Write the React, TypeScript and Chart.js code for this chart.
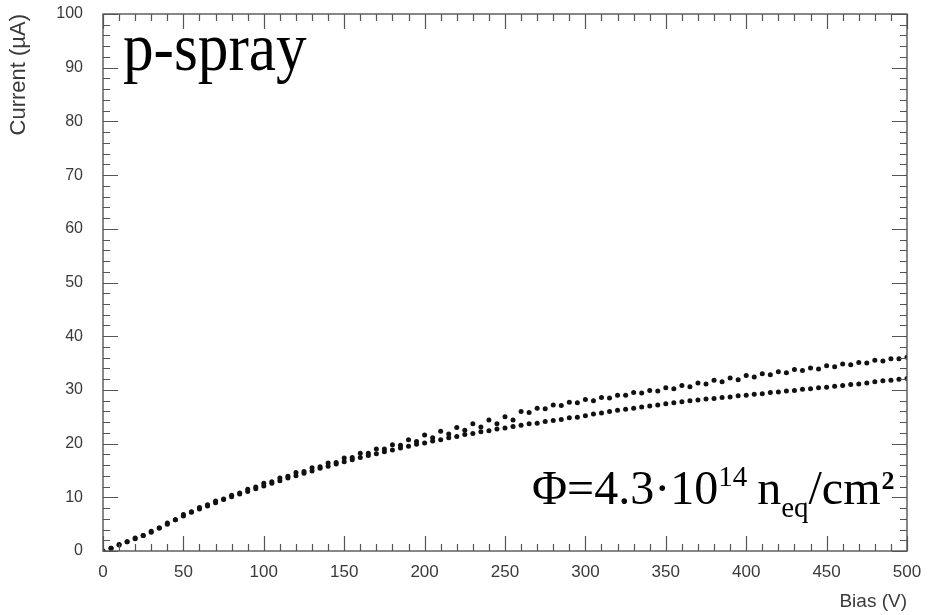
import React, { useEffect, useRef } from 'react';
import { Chart, registerables } from 'chart.js';

Chart.register(...registerables);

// Bias voltages (V)
const voltsEven = [0, 10, 20, 30, 40, 50, 60, 70, 80, 90, 100, 110, 120, 130, 140, 150, 160, 170, 180, 190, 200, 210, 220, 230, 240, 250, 260, 270, 280, 290, 300, 310, 320, 330, 340, 350, 360, 370, 380, 390, 400, 410, 420, 430, 440, 450, 460, 470, 480, 490, 500];
const voltsOdd = [5, 15, 25, 35, 45, 55, 65, 75, 85, 95, 105, 115, 125, 135, 145, 155, 165, 175, 185, 195, 205, 215, 225, 235, 245, 255, 265, 275, 285, 295, 305, 315, 325, 335, 345, 355, 365, 375, 385, 395, 405, 415, 425, 435, 445, 455, 465, 475, 485, 495];

// Currents (µA)
const sensorA = [0, 1.2, 2.4, 3.7, 5.2, 6.8, 8.1, 9.3, 10.4, 11.5, 12.6, 13.6, 14.6, 15.5, 16.4, 17.3, 18.2, 19.0, 19.8, 20.7, 21.6, 22.3, 23.0, 23.7, 24.4, 25.0, 26.0, 26.6, 27.2, 27.7, 28.2, 28.6, 29.0, 29.5, 29.9, 30.4, 30.8, 31.3, 31.8, 32.2, 32.7, 33.0, 33.4, 33.8, 34.1, 34.5, 34.8, 35.1, 35.5, 35.8, 36.1];
const sensorB = [0.5, 1.7, 2.9, 4.3, 5.8, 7.3, 8.6, 9.7, 10.8, 11.9, 12.9, 13.9, 14.8, 15.7, 16.5, 17.4, 18.2, 19.0, 19.7, 20.4, 21.1, 21.8, 22.5, 23.1, 23.7, 24.4, 25.8, 26.5, 27.1, 27.6, 28.0, 28.5, 29.0, 29.4, 29.8, 30.2, 30.6, 31.1, 31.5, 31.9, 32.4, 32.8, 33.2, 33.6, 33.9, 34.3, 34.7, 35.0, 35.4, 35.8];
const sensorC = [0, 1.1, 2.3, 3.5, 5.0, 6.5, 7.8, 9.0, 10.1, 11.1, 12.1, 13.1, 14.0, 14.9, 15.8, 16.6, 17.4, 18.1, 18.8, 19.5, 20.1, 20.7, 21.3, 21.9, 22.4, 22.9, 23.4, 23.8, 24.3, 24.8, 25.2, 25.7, 26.2, 26.6, 27.0, 27.4, 27.8, 28.1, 28.4, 28.7, 29.0, 29.3, 29.6, 29.9, 30.2, 30.5, 30.8, 31.1, 31.5, 31.8, 32.1];
const sensorD = [0.5, 1.7, 2.9, 4.3, 5.8, 7.2, 8.4, 9.6, 10.6, 11.6, 12.6, 13.6, 14.5, 15.4, 16.2, 17.0, 17.8, 18.5, 19.2, 19.9, 20.5, 21.1, 21.7, 22.2, 22.7, 23.2, 23.7, 24.1, 24.5, 24.9, 25.5, 26.0, 26.4, 26.8, 27.2, 27.6, 28.0, 28.3, 28.6, 28.9, 29.2, 29.5, 29.8, 30.1, 30.4, 30.7, 31.0, 31.3, 31.7, 32.0];

const xMin = 0, xMax = 500, xMajor = 50, xMinor = 10;
const yMin = 0, yMax = 100, yMajor = 10, yMinor = 2;

const labelColor = '#3a3a3a';
const sansFont = '"Liberation Sans", Arial, sans-serif';
const serifFont = '"Liberation Serif", "Times New Roman", serif';

const framePlugin = {
  id: 'rootFrame',
  afterDatasetsDraw(chart: any) {
    const { ctx, chartArea: a, scales } = chart;
    const sx = scales.x, sy = scales.y;
    ctx.save();
    ctx.strokeStyle = '#555';
    ctx.lineWidth = 1.4;
    ctx.strokeRect(a.left, a.top, a.right - a.left, a.bottom - a.top);
    ctx.lineWidth = 1.2;
    ctx.beginPath();
    for (let v = xMin; v <= xMax + 1e-6; v += xMinor) {
      const px = Math.round(sx.getPixelForValue(v)) + 0.5;
      const major = Math.abs(v / xMajor - Math.round(v / xMajor)) < 1e-6;
      const len = major ? 15 : 7;
      ctx.moveTo(px, a.bottom); ctx.lineTo(px, a.bottom - len);
      ctx.moveTo(px, a.top); ctx.lineTo(px, a.top + len);
    }
    for (let v = yMin; v <= yMax + 1e-6; v += yMinor) {
      const py = Math.round(sy.getPixelForValue(v)) + 0.5;
      const major = Math.abs(v / yMajor - Math.round(v / yMajor)) < 1e-6;
      const len = major ? 15 : 7;
      ctx.moveTo(a.left, py); ctx.lineTo(a.left + len, py);
      ctx.moveTo(a.right, py); ctx.lineTo(a.right - len, py);
    }
    ctx.stroke();
    ctx.restore();
  },
  afterDraw(chart: any) {
    const { ctx } = chart;
    ctx.save();
    ctx.fillStyle = '#000';
    ctx.textBaseline = 'alphabetic';
    ctx.textAlign = 'left';
    // p-spray label
    ctx.save();
    ctx.translate(123, 70);
    ctx.scale(0.9, 1);
    ctx.font = `68px ${serifFont}`;
    ctx.fillText('p-spray', 0, 0);
    ctx.restore();
    // fluence label
    let x = 532;
    const base = 504;
    const big = `48px ${serifFont}`;
    const small = `29px ${serifFont}`;
    ctx.font = big;
    ctx.fillText('Φ=4.3·10', x, base);
    x += ctx.measureText('Φ=4.3·10').width;
    ctx.font = small;
    ctx.fillText('14', x, base - 18);
    x += ctx.measureText('14').width;
    ctx.font = big;
    ctx.fillText(' n', x - 2, base);
    x += ctx.measureText(' n').width - 2;
    ctx.font = small;
    ctx.fillText('eq', x, base + 13);
    x += ctx.measureText('eq').width;
    ctx.font = big;
    ctx.fillText('/cm', x, base);
    x += ctx.measureText('/cm').width;
    ctx.font = `bold 26px ${serifFont}`;
    ctx.fillText('2', x + 1, base - 15);
    ctx.restore();
  },
};

function makePoints(xs: number[], ys: number[]) {
  return xs.map((v, i) => ({ x: v, y: ys[i] }));
}

export default function App() {
  const canvasRef = useRef<HTMLCanvasElement | null>(null);

  useEffect(() => {
    if (!canvasRef.current) return;
    const pointStyle = {
      showLine: false,
      pointStyle: 'circle' as const,
      pointRadius: 2.5,
      pointBackgroundColor: '#111',
      pointBorderWidth: 0,
      borderColor: '#111',
      backgroundColor: '#111',
    };
    const chart = new Chart(canvasRef.current, {
      type: 'scatter',
      data: {
        datasets: [
          { label: 'A', data: makePoints(voltsEven, sensorA), ...pointStyle },
          { label: 'B', data: makePoints(voltsOdd, sensorB), ...pointStyle },
          { label: 'C', data: makePoints(voltsEven, sensorC), ...pointStyle },
          { label: 'D', data: makePoints(voltsOdd, sensorD), ...pointStyle },
        ],
      },
      options: {
        animation: false,
        responsive: true,
        maintainAspectRatio: false,
        layout: { padding: { left: 0, top: 14, right: 24, bottom: 0 } },
        plugins: { legend: { display: false }, tooltip: { enabled: false } },
        scales: {
          x: {
            type: 'linear',
            min: xMin,
            max: xMax,
            grid: { display: false, drawTicks: false },
            border: { display: false },
            ticks: {
              stepSize: xMajor,
              padding: 11,
              color: labelColor,
              font: { family: sansFont, size: 17 },
              maxRotation: 0,
            },
            title: {
              display: true,
              text: 'Bias (V)',
              align: 'end',
              color: labelColor,
              font: { family: sansFont, size: 19 },
              padding: { top: 0, bottom: 2 },
            },
            afterFit: (scale: any) => {
              scale.height = 64;
              scale.paddingLeft = 0;
              scale.paddingRight = 0;
            },
          },
          y: {
            type: 'linear',
            min: yMin,
            max: yMax,
            grid: { display: false, drawTicks: false },
            border: { display: false },
            ticks: {
              stepSize: yMajor,
              padding: 20,
              color: labelColor,
              font: { family: sansFont, size: 16 },
            },
            title: {
              display: true,
              text: 'Current (µA)',
              align: 'end',
              color: labelColor,
              font: { family: sansFont, size: 22 },
              padding: { top: 6, bottom: 0 },
            },
            afterFit: (scale: any) => {
              scale.width = 103;
              scale.paddingTop = 0;
              scale.paddingBottom = 0;
            },
          },
        },
      },
      plugins: [framePlugin],
    });
    return () => chart.destroy();
  }, []);

  return (
    <div style={{ position: 'absolute', left: 0, top: 0, width: 931, height: 615, background: '#fff' }}>
      <canvas ref={canvasRef} />
    </div>
  );
}
